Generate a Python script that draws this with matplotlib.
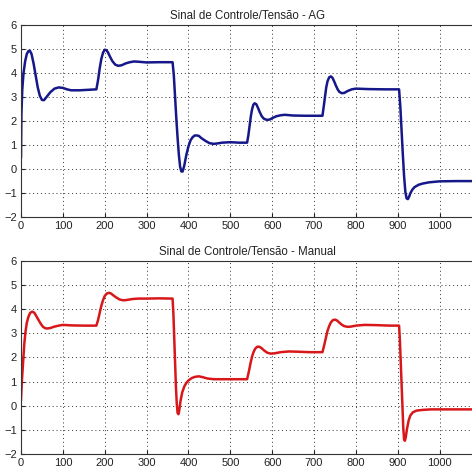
import numpy as np
import matplotlib.pyplot as plt

# Sinal de controle (AG)
t_ag = [0, 1, 3, 6, 10, 14, 18, 21, 25, 30, 35, 40, 45, 50, 55, 60, 70, 80, 90, 100,
        110, 120, 140, 160, 180, 184, 188, 192, 196, 200, 204, 208, 212, 218, 225, 232,
        240, 250, 260, 270, 280, 300, 330, 362, 365, 368, 371, 374, 377, 380, 383, 386,
        390, 395, 400, 405, 410, 415, 420, 425, 430, 440, 450, 460, 470, 480, 500, 520,
        540, 543, 546, 549, 552, 555, 558, 562, 566, 570, 575, 580, 585, 590, 595, 600,
        610, 620, 630, 650, 680, 720, 723, 726, 729, 732, 736, 740, 744, 748, 752, 756,
        760, 766, 772, 780, 790, 800, 830, 870, 903, 906, 909, 912, 915, 918, 921, 924,
        927, 930, 935, 940, 950, 960, 975, 1000, 1040, 1080]
u_ag = [0.5, 2.3, 3.3, 4.0, 4.5, 4.8, 4.92, 4.93, 4.8, 4.4, 3.9, 3.4, 3.05, 2.88, 2.87, 2.98,
        3.2, 3.35, 3.4, 3.38, 3.32, 3.28, 3.28, 3.3, 3.32, 3.7, 4.2, 4.6, 4.85, 4.97, 4.95,
        4.85, 4.7, 4.5, 4.35, 4.3, 4.32, 4.4, 4.45, 4.48, 4.47, 4.44, 4.45, 4.45, 3.9, 3.0,
        2.1, 1.3, 0.6, 0.1, -0.1, -0.1, 0.15, 0.6, 0.95, 1.2, 1.33, 1.4, 1.4, 1.38, 1.3,
        1.18, 1.08, 1.05, 1.07, 1.1, 1.12, 1.1, 1.1, 1.4, 1.8, 2.2, 2.5, 2.68, 2.74, 2.7,
        2.55, 2.38, 2.2, 2.1, 2.06, 2.05, 2.07, 2.12, 2.2, 2.24, 2.26, 2.23, 2.22, 2.22,
        2.6, 3.0, 3.4, 3.65, 3.82, 3.86, 3.8, 3.65, 3.48, 3.33, 3.22, 3.16, 3.17, 3.25,
        3.32, 3.35, 3.33, 3.32, 3.32, 2.6, 1.6, 0.6, -0.3, -0.95, -1.22, -1.25, -1.15,
        -1.0, -0.85, -0.75, -0.65, -0.6, -0.55, -0.51, -0.5, -0.5]

# Sinal de controle (Manual)
t_man = [0, 2, 5, 8, 11, 14, 18, 22, 27, 32, 37, 42, 47, 52, 57, 62, 70, 80, 90, 100,
         120, 150, 180, 184, 188, 192, 196, 200, 205, 210, 215, 220, 228, 236, 244, 252,
         265, 280, 300, 330, 362, 364, 366, 368, 370, 372, 374, 376, 378, 381, 385, 390,
         395, 400, 408, 416, 425, 435, 445, 460, 490, 540, 544, 548, 552, 556, 560, 565,
         570, 575, 580, 588, 596, 605, 620, 640, 660, 690, 720, 724, 728, 732, 736, 740,
         745, 750, 755, 760, 766, 772, 780, 788, 800, 820, 850, 880, 903, 905, 907, 909,
         911, 913, 915, 917, 919, 922, 926, 930, 936, 945, 960, 980, 1020, 1080]
u_man = [0.25, 1.0, 1.8, 2.6, 3.1, 3.45, 3.7, 3.85, 3.9, 3.85, 3.7, 3.55, 3.4, 3.28, 3.22,
         3.2, 3.22, 3.28, 3.32, 3.35, 3.33, 3.32, 3.32, 3.55, 3.85, 4.15, 4.38, 4.55, 4.65,
         4.68, 4.65, 4.58, 4.48, 4.4, 4.37, 4.38, 4.42, 4.44, 4.44, 4.45, 4.44, 3.8, 2.8,
         1.8, 0.8, 0.1, -0.3, -0.35, -0.2, 0.2, 0.55, 0.8, 0.95, 1.05, 1.15, 1.2, 1.22,
         1.18, 1.13, 1.1, 1.1, 1.1, 1.4, 1.75, 2.05, 2.25, 2.38, 2.45, 2.44, 2.38, 2.3,
         2.2, 2.16, 2.17, 2.22, 2.25, 2.24, 2.22, 2.22, 2.5, 2.8, 3.1, 3.3, 3.45, 3.55,
         3.57, 3.53, 3.45, 3.36, 3.3, 3.27, 3.28, 3.32, 3.35, 3.34, 3.32, 3.32, 2.7, 1.8,
         0.9, 0.0, -0.9, -1.4, -1.45, -1.3, -0.95, -0.6, -0.4, -0.27, -0.2, -0.17, -0.15,
         -0.15, -0.15]

titles = ["Sinal de Controle/Tensão - AG", "Sinal de Controle/Tensão - Manual"]
x_ticks = list(range(0, 1001, 100))
y_ticks = list(range(-2, 7))

plt.rcParams['font.family'] = ['Liberation Sans', 'DejaVu Sans']

fig = plt.figure(figsize=(4.72, 4.71), dpi=100)
# o eixo passa um pouco da borda direita, como no original (cortado)
ax1 = fig.add_axes([0.0445, 0.539, 0.958, 0.408])
ax2 = fig.add_axes([0.0445, 0.036, 0.958, 0.410])

for ax, t, u, cor, titulo in [(ax1, t_ag, u_ag, '#16188a', titles[0]),
                               (ax2, t_man, u_man, '#d8171a', titles[1])]:
    ax.plot(t, u, color=cor, linewidth=1.8)
    ax.set_xlim(0, 1080)
    ax.set_ylim(-2, 6)
    ax.set_xticks(x_ticks)
    ax.set_yticks(y_ticks)
    ax.grid(True, linestyle=(0, (1, 3)), color='#333333', linewidth=0.7)
    ax.tick_params(direction='in', labelsize=8, length=3, pad=3, colors='#222222')
    ax.set_title(titulo, fontsize=8.3, pad=4, color='#222222')
    for s in ax.spines.values():
        s.set_linewidth(0.8)
        s.set_color('#333333')

fig.savefig("out.png", dpi=100)
